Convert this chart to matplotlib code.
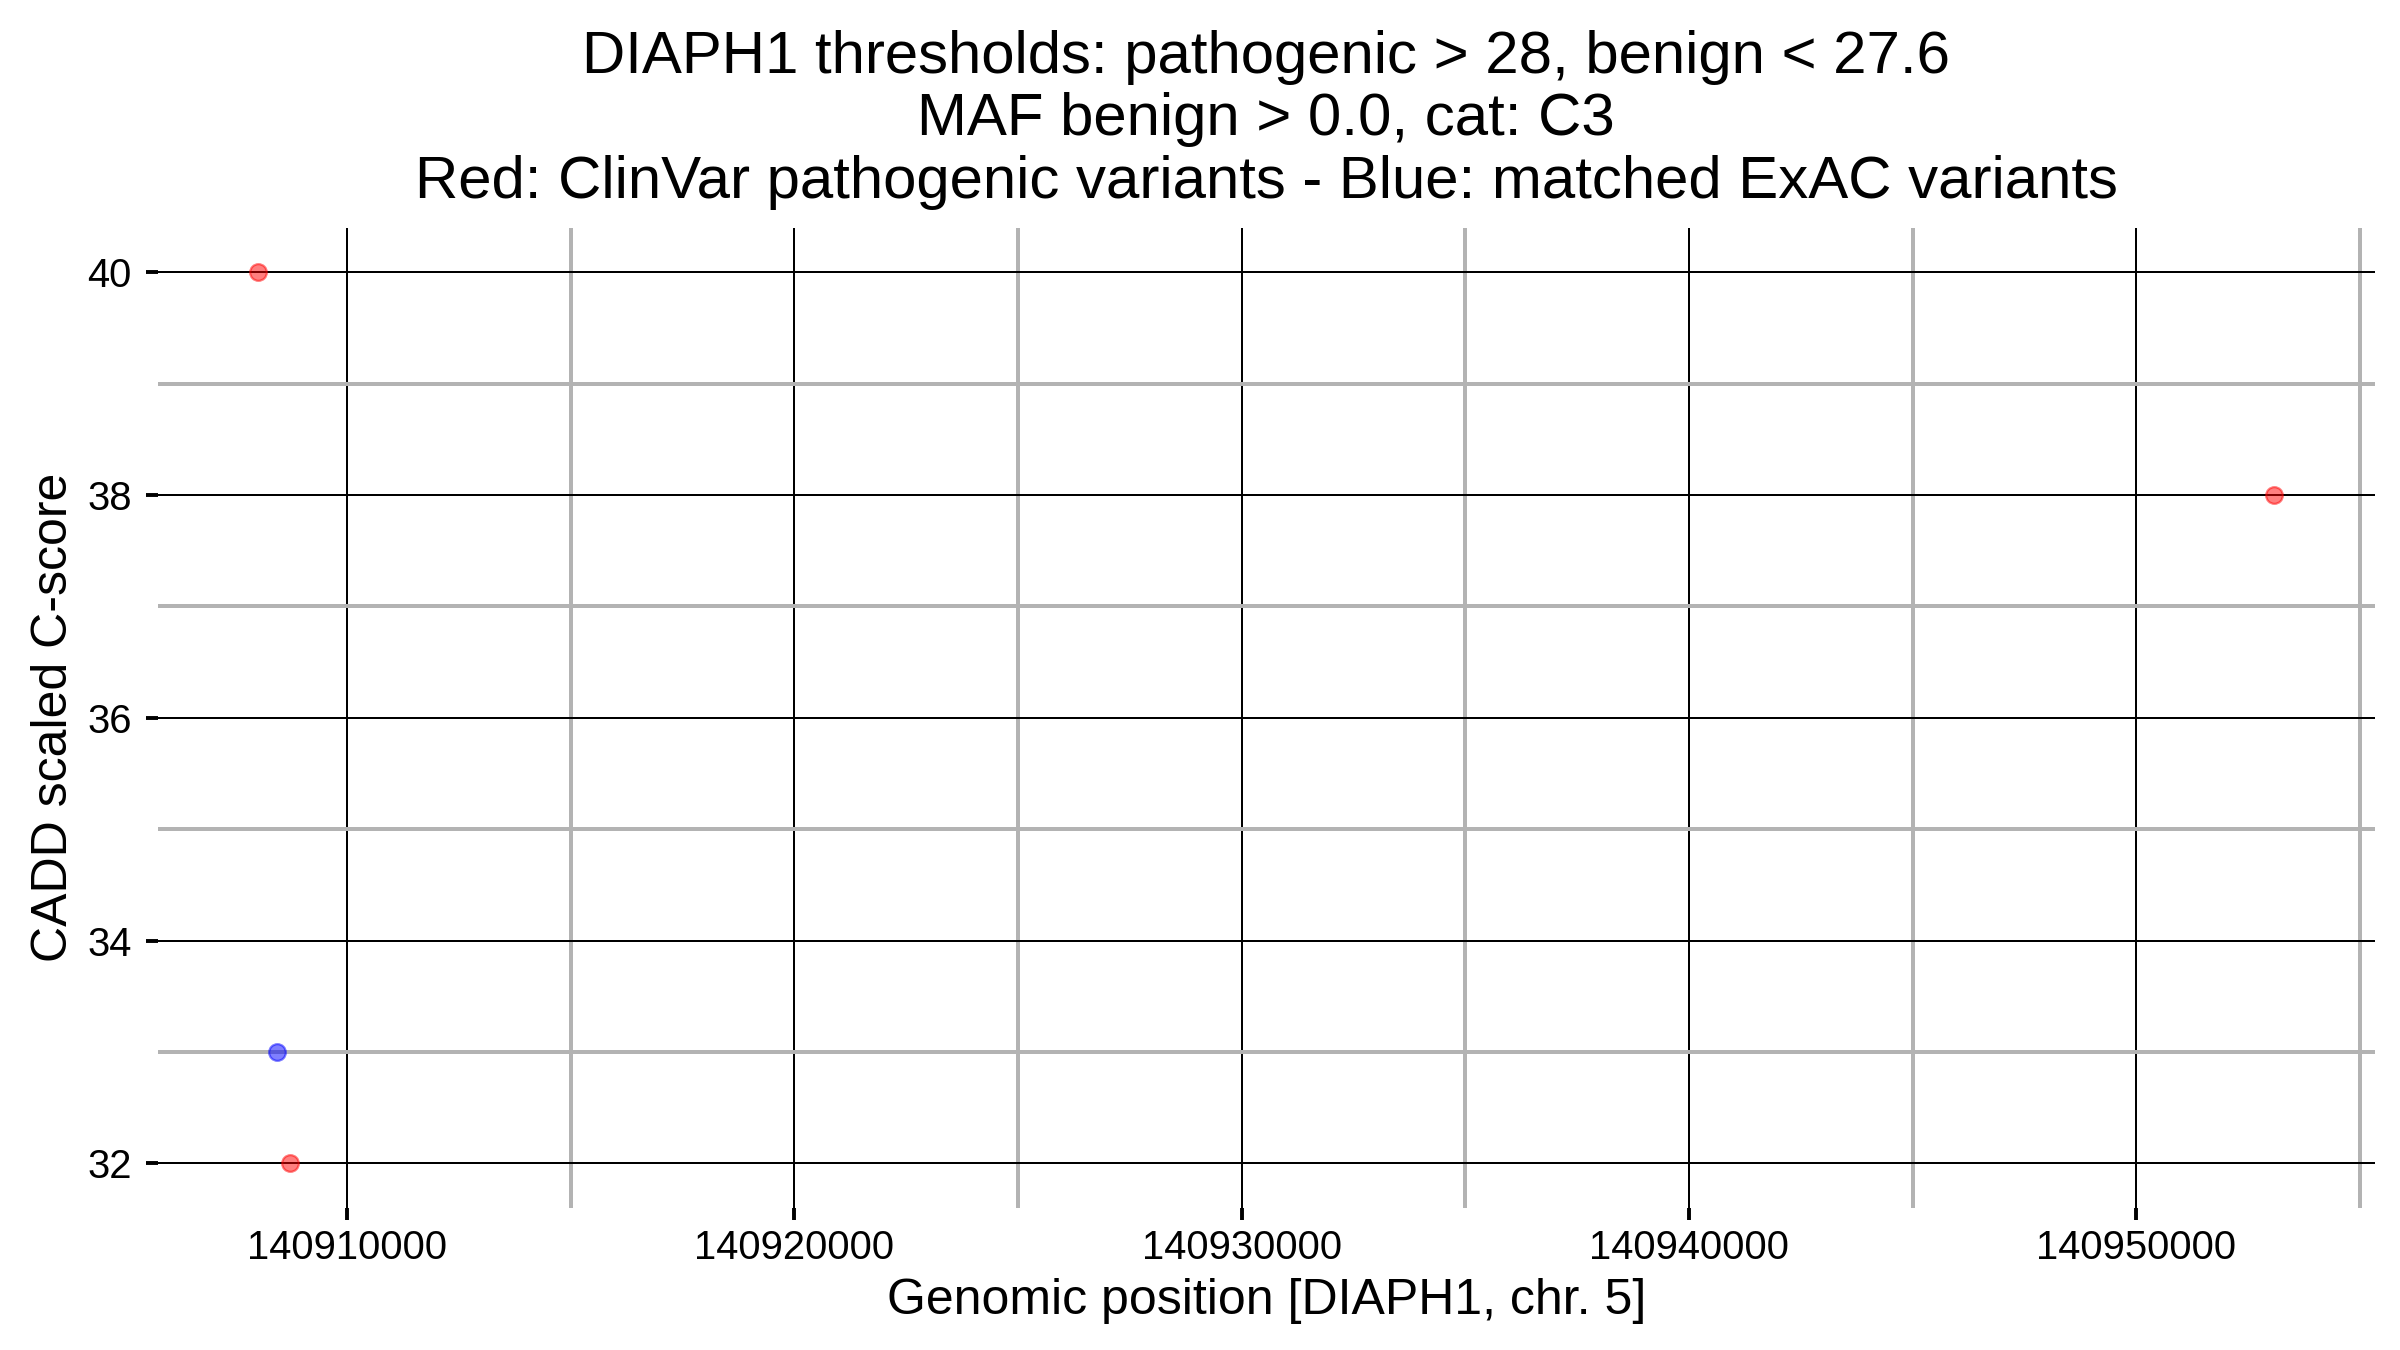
import matplotlib
matplotlib.use('Agg')
import matplotlib.pyplot as plt
from matplotlib.ticker import FixedLocator, FuncFormatter

import numpy as np

plt.rcParams['font.family'] = ['Liberation Sans', 'DejaVu Sans']

# data
gene = 'DIAPH1'
chromosome = 5
patho_thr = 28
benign_thr = 27.6
maf_benign = 0.0
category = 'C3'

clinvar_pos = [140908025, 140908740, 140953080]
clinvar_score = [40, 32, 38]

exac_pos = [140908440]
exac_score = [33]

x_major = [140910000, 140920000, 140930000, 140940000, 140950000]
x_minor = [140905000, 140915000, 140925000, 140935000, 140945000, 140955000]
y_major = [32, 34, 36, 38, 40]
y_minor = [33, 35, 37, 39]

# ggplot-like 5% expansion of the data range
all_x = np.array(clinvar_pos + exac_pos, dtype=float)
all_y = np.array(clinvar_score + exac_score, dtype=float)
xr = all_x.max() - all_x.min()
yr = all_y.max() - all_y.min()

fig = plt.figure(figsize=(12, 6.75), dpi=200)
ax = fig.add_axes([0.0657, 0.1052, 0.9239, 0.7261])

ax.scatter(clinvar_pos, clinvar_score, s=36, color='red', alpha=0.5, linewidths=0.8, zorder=3)
ax.scatter(exac_pos, exac_score, s=36, color='blue', alpha=0.5, linewidths=0.8, zorder=3)

ax.set_xlim(all_x.min() - 0.05 * xr, all_x.max() + 0.05 * xr)
ax.set_ylim(all_y.min() - 0.05 * yr, all_y.max() + 0.05 * yr)

ax.xaxis.set_major_locator(FixedLocator(x_major))
ax.xaxis.set_minor_locator(FixedLocator(x_minor))
ax.yaxis.set_major_locator(FixedLocator(y_major))
ax.yaxis.set_minor_locator(FixedLocator(y_minor))
ax.xaxis.set_major_formatter(FuncFormatter(lambda v, p: '%d' % v))
ax.yaxis.set_major_formatter(FuncFormatter(lambda v, p: '%d' % v))

ax.set_axisbelow(True)
ax.grid(which='minor', color='#b3b3b3', linewidth=1.44)
ax.grid(which='major', color='black', linewidth=0.72)

for s in ax.spines.values():
    s.set_visible(False)

ax.tick_params(which='major', length=4.3, width=1.4, color='black', labelsize=14.4, labelcolor='black')
ax.tick_params(axis='x', which='major', pad=3.2)
ax.tick_params(axis='y', which='major', pad=5)
ax.tick_params(which='minor', length=0)

ax.set_xlabel('Genomic position [%s, chr. %d]' % (gene, chromosome), fontsize=18, va='center')
ax.set_ylabel('CADD scaled C-score', fontsize=18, va='center')
ax.xaxis.set_label_coords(0.5, -0.095)
ax.yaxis.set_label_coords(-0.0468, 0.5)

title = ('%s thresholds: pathogenic > %g, benign < %g\n'
         'MAF benign > %.1f, cat: %s\n'
         'Red: ClinVar pathogenic variants - Blue: matched ExAC variants') % (
    gene, patho_thr, benign_thr, maf_benign, category)
ax.set_title(title, fontsize=21.6, pad=10.8, linespacing=1.17)

fig.savefig('out.png', dpi=200)
